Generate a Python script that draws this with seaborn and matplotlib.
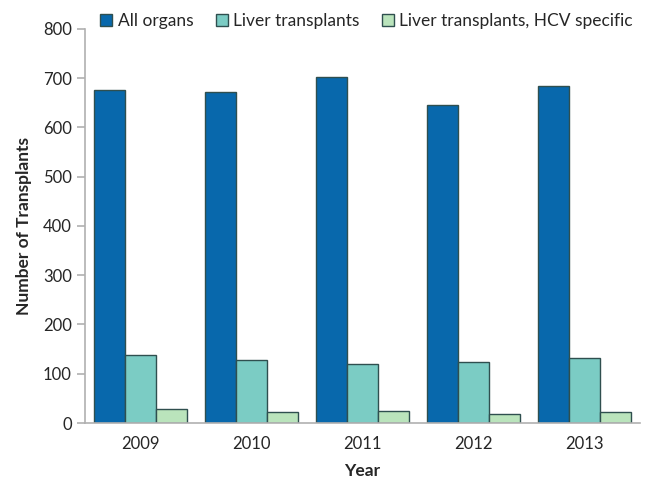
import pandas as pd
import numpy as np
import seaborn as sns
import matplotlib.pyplot as plt

sns.set_style('white')
plt.rcParams['font.family'] = ['Lato', 'DejaVu Sans']

## values
years = ['2009', '2010', '2011', '2012', '2013']
all_organs = [676, 671, 702, 646, 684]
liver = [138, 128, 120, 124, 132]
liver_hcv = [28, 22, 25, 18, 22]
series_names = ['All organs', 'Liver transplants', 'Liver transplants, HCV specific']
colors = ['#0868AC', '#7BCCC4', '#BAE4BC']

## long format for seaborn
df = pd.DataFrame({
	'Year': years * 3,
	'Transplants': all_organs + liver + liver_hcv,
	'Series': [s for s in series_names for _ in years],
})

fig = plt.figure(figsize=(6.47, 4.82), dpi=100)
ax = fig.add_axes([0.1314, 0.1224, 0.8578, 0.8176])

sns.barplot(data=df, x='Year', y='Transplants', hue='Series', palette=colors,
	width=0.83, edgecolor='#2f4f4f', linewidth=1.0, saturation=1, ax=ax)

ax.set_ylim(0, 800)
ax.set_xlim(-0.5, 4.5)
ax.set_yticks(range(0, 801, 100))

## axis styling
for side in ['top', 'right']:
	ax.spines[side].set_visible(False)
for side in ['left', 'bottom']:
	ax.spines[side].set_color('#b0b0b0')
	ax.spines[side].set_linewidth(1.2)

ax.set_xticks(np.arange(-0.5, 5, 1), minor=True)
ax.tick_params(axis='x', which='major', length=0, labelsize=12, pad=9)
ax.tick_params(axis='x', which='minor', length=6, color='#b0b0b0', width=1.2)
ax.tick_params(axis='y', length=6, color='#b0b0b0', width=1.2, labelsize=12, left=True)

ax.set_xlabel('Year', fontsize=12.5, fontweight='bold', labelpad=8)
ax.set_ylabel('Number of Transplants', fontsize=12.5, fontweight='bold', labelpad=8)

ax.legend(loc='upper right', bbox_to_anchor=(1.0, 1.058), ncol=3, frameon=False,
	fontsize=12.5, handlelength=0.7, handleheight=0.7, handletextpad=0.3, columnspacing=1.3,
	borderaxespad=0)

plt.savefig('out.png', dpi=100)
